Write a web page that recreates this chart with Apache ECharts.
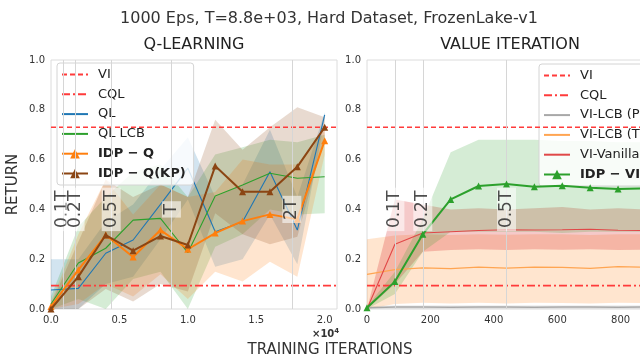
<!DOCTYPE html>
<html>
<head>
<meta charset="utf-8">
<script src="https://cdn.jsdelivr.net/npm/echarts@6.0.0/dist/echarts.min.js"></script>
<style>
  html, body { margin: 0; padding: 0; background: #fff; }
  #chart { width: 640px; height: 356px; }
</style>
</head>
<body>
<div id="chart"></div>
<script>
var FONT = 'DejaVu Sans';

// reference returns (horizontal lines)
var viReturn = 0.73;
var cqlReturn = 0.094;

// ---- Q-learning panel (x in training iterations) ----
var qIters = [0, 2000, 4000, 6000, 8000, 10000, 12000, 14000, 16000, 18000, 20000];
var qXMax = 20900;
var qMarkX = [880, 1760, 4400, 8800, 17600];
var qMarkText = ['0.1T', '0.2T', '0.5T', 'T', '2T'];

var ql = [0.076, 0.083, 0.224, 0.277, 0.42, 0.566, 0.31, 0.35, 0.551, 0.317, 0.78];
var qlLo = [0.0, 0.0, 0.1, 0.13, 0.28, 0.44, 0.17, 0.2, 0.38, 0.18, 0.76];
var qlHi = [0.2, 0.2, 0.35, 0.42, 0.56, 0.69, 0.45, 0.5, 0.72, 0.45, 0.79];

var qlLcb = [0.02, 0.185, 0.244, 0.357, 0.364, 0.226, 0.454, 0.498, 0.545, 0.525, 0.531];
var qlLcbLo = [0.0, 0.04, 0.0, 0.12, 0.15, 0.0, 0.25, 0.3, 0.4, 0.38, 0.385];
var qlLcbHi = [0.05, 0.33, 0.45, 0.55, 0.58, 0.45, 0.62, 0.65, 0.68, 0.67, 0.7];

var idpQ = [0.01, 0.157, 0.297, 0.209, 0.317, 0.24, 0.305, 0.353, 0.38, 0.36, 0.676];
var idpQLo = [0.0, 0.02, 0.1, 0.05, 0.14, 0.04, 0.15, 0.11, 0.19, 0.13, 0.62];
var idpQHi = [0.03, 0.3, 0.52, 0.38, 0.5, 0.45, 0.47, 0.6, 0.58, 0.58, 0.73];

var idpQKp = [0.0, 0.13, 0.297, 0.234, 0.293, 0.257, 0.574, 0.471, 0.471, 0.571, 0.73];
var idpQKpLo = [0.0, 0.0, 0.08, 0.03, 0.1, 0.07, 0.385, 0.3, 0.26, 0.29, 0.69];
var idpQKpHi = [0.02, 0.27, 0.52, 0.45, 0.5, 0.45, 0.76, 0.64, 0.73, 0.81, 0.77];

// ---- Value iteration panel ----
var vIters = [0, 88, 176, 264, 352, 440, 528, 616, 704, 792, 880];
var vXMax = 1000;
var vMarkX = [88, 176, 440];
var vMarkText = ['0.1T', '0.2T', '0.5T'];

var lcbP = [0.005, 0.008, 0.008, 0.007, 0.008, 0.008, 0.007, 0.008, 0.008, 0.007, 0.008];
var lcbPLo = [0.0, 0.0, 0.0, 0.0, 0.0, 0.0, 0.0, 0.0, 0.0, 0.0, 0.0];
var lcbPHi = [0.01, 0.015, 0.015, 0.015, 0.015, 0.015, 0.015, 0.015, 0.015, 0.015, 0.015];

var lcbT = [0.139, 0.158, 0.165, 0.162, 0.168, 0.164, 0.168, 0.167, 0.163, 0.17, 0.168];
var lcbTLo = [0.0, 0.02, 0.025, 0.022, 0.025, 0.022, 0.025, 0.024, 0.022, 0.025, 0.024];
var lcbTHi = [0.28, 0.295, 0.3, 0.297, 0.3, 0.298, 0.3, 0.3, 0.297, 0.3, 0.3];

var vanilla = [0.0, 0.26, 0.305, 0.31, 0.315, 0.318, 0.317, 0.318, 0.32, 0.316, 0.315];
var vanillaLo = [0.0, 0.1, 0.23, 0.237, 0.24, 0.237, 0.24, 0.238, 0.24, 0.237, 0.238];
var vanillaHi = [0.0, 0.44, 0.42, 0.4, 0.405, 0.4, 0.405, 0.41, 0.4, 0.405, 0.4];

var idpVi = [0.005, 0.11, 0.3, 0.44, 0.494, 0.502, 0.491, 0.495, 0.487, 0.482, 0.485];
var idpViLo = [0.0, 0.06, 0.23, 0.31, 0.31, 0.31, 0.31, 0.305, 0.31, 0.31, 0.31];
var idpViHi = [0.01, 0.15, 0.36, 0.63, 0.68, 0.68, 0.68, 0.675, 0.675, 0.67, 0.67];

var C = {
  vi: '#ff3b3b',
  blue: '#1f77b4',
  green: '#2ca02c',
  orange: '#ff7f0e',
  brown: '#8b4513',
  gray: '#a8a8a8',
  lightOrange: '#ffa552',
  red: '#e04848'
};

function zip(xs, ys) {
  var out = [];
  for (var i = 0; i < xs.length; i++) out.push([xs[i], ys[i]]);
  return out;
}

// shaded band between lo and hi, drawn through the axis scales
function band(name, xs, lo, hi, color, idx, alpha) {
  return {
    type: 'custom',
    name: name,
    xAxisIndex: idx,
    yAxisIndex: idx,
    clip: true,
    silent: true,
    z: 1,
    data: [[xs[0], lo[0]]],
    renderItem: function (params, api) {
      var pts = [];
      for (var i = 0; i < xs.length; i++) pts.push(api.coord([xs[i], hi[i]]));
      for (var j = xs.length - 1; j >= 0; j--) pts.push(api.coord([xs[j], lo[j]]));
      return {
        type: 'polygon',
        shape: { points: pts },
        style: { fill: color, opacity: alpha || 0.2 }
      };
    }
  };
}

function line(name, xs, ys, color, idx, opts) {
  opts = opts || {};
  return {
    type: 'line',
    name: name,
    xAxisIndex: idx,
    yAxisIndex: idx,
    data: zip(xs, ys),
    symbol: opts.symbol || 'none',
    symbolSize: opts.symbolSize || 7,
    showSymbol: !!opts.symbol,
    itemStyle: { color: color },
    lineStyle: { color: color, width: opts.width || 1.2, type: opts.type || 'solid' },
    animation: false,
    z: opts.z || 3
  };
}

function hline(name, value, xMax, type, idx) {
  return line(name, [0, xMax], [value, value], C.vi, idx, { type: type, width: 1.6, z: 4 });
}

// vertical T markers with rotated boxed labels
function markers(xs, texts, idx) {
  var data = [];
  for (var i = 0; i < xs.length; i++) data.push({ value: [xs[i], 0.4], name: texts[i] });
  return {
    type: 'scatter',
    name: 'markers' + idx,
    xAxisIndex: idx,
    yAxisIndex: idx,
    symbolSize: 0,
    silent: true,
    z: 10,
    data: data,
    label: {
      show: true,
      position: 'inside',
      rotate: 90,
      formatter: '{b}',
      fontFamily: FONT,
      fontSize: 17,
      color: '#222',
      backgroundColor: 'rgba(255,255,255,0.72)',
      padding: [1, 3]
    },
    markLine: {
      silent: true,
      symbol: 'none',
      label: { show: false },
      lineStyle: { color: '#d6d6d6', width: 1, type: 'solid' },
      data: xs.map(function (x) { return { xAxis: x }; })
    }
  };
}

var axisLabelStyle = { fontFamily: FONT, fontSize: 10, color: '#333' };

function xAxis(idx, max, step, fmt) {
  return {
    type: 'value',
    gridIndex: idx,
    min: 0,
    max: max,
    interval: step,
    axisLine: { show: false },
    axisTick: { show: false },
    splitLine: { show: false },
    axisLabel: Object.assign({
      margin: 6,
      showMaxLabel: false,
      formatter: function (v) { return v % step === 0 ? fmt(v) : ''; }
    }, axisLabelStyle)
  };
}

function yAxis(idx, withName) {
  var ax = {
    type: 'value',
    gridIndex: idx,
    min: 0,
    max: 1,
    interval: 0.2,
    axisLine: { show: false },
    axisTick: { show: false },
    splitLine: { show: false },
    axisLabel: Object.assign({ margin: 6, formatter: function (v) { return v.toFixed(1); } }, axisLabelStyle)
  };
  if (withName) {
    ax.name = 'RETURN';
    ax.nameLocation = 'middle';
    ax.nameGap = 30;
    ax.nameTextStyle = { fontFamily: FONT, fontSize: 15, color: '#333' };
  }
  return ax;
}

// legend box; items without markers hide the legend symbol
function legendBox(left, top, names, markerNames) {
  return {
    orient: 'vertical',
    left: left,
    top: top,
    itemWidth: 26,
    itemHeight: 12,
    itemGap: 6.8,
    padding: [5, 8, 5, 4],
    backgroundColor: 'rgba(255,255,255,0.82)',
    borderColor: '#d4d4d4',
    borderWidth: 1,
    borderRadius: 3,
    selectedMode: false,
    textStyle: { fontFamily: FONT, fontSize: 13, color: '#222', padding: [0, 0, 0, 5] },
    data: names.map(function (n) {
      return markerNames.indexOf(n) >= 0
        ? { name: n, textStyle: { fontWeight: 'bold' } }
        : { name: n, itemStyle: { opacity: 0 } };
    })
  };
}

var chart = echarts.init(document.getElementById('chart'));

var gridStyle = {
  show: true, borderColor: '#dcdcdc', borderWidth: 1, backgroundColor: 'transparent',
  containLabel: false, outerBoundsMode: 'none'
};

var option = {
  animation: false,
  backgroundColor: '#fff',
  title: [
    { text: '1000 Eps, T=8.8e+03, Hard Dataset, FrozenLake-v1', left: 329, top: 11, textAlign: 'center', padding: 0,
      textStyle: { fontFamily: FONT, fontSize: 16, fontWeight: 'normal', color: '#333' } },
    { text: 'Q-LEARNING', left: 194, top: 37, textAlign: 'center', padding: 0,
      textStyle: { fontFamily: FONT, fontSize: 16, fontWeight: 'normal', color: '#222' } },
    { text: 'VALUE ITERATION', left: 510, top: 37, textAlign: 'center', padding: 0,
      textStyle: { fontFamily: FONT, fontSize: 16, fontWeight: 'normal', color: '#222' } },
    { text: 'TRAINING ITERATIONS', left: 330, top: 343, textAlign: 'center', padding: 0,
      textStyle: { fontFamily: FONT, fontSize: 15, fontWeight: 'normal', color: '#333' } },
    { text: '{a|×10}{b|4}', left: 312, top: 328, padding: 0,
      textStyle: { rich: {
        a: { fontFamily: FONT, fontSize: 10, color: '#333' },
        b: { fontFamily: FONT, fontSize: 7, color: '#333', padding: [0, 0, 6, 0] }
      } } }
  ],
  grid: [
    Object.assign({ left: 51, right: 303, top: 60, bottom: 47 }, gridStyle),
    Object.assign({ left: 367, right: -44, top: 60, bottom: 47 }, gridStyle)
  ],
  xAxis: [
    xAxis(0, qXMax, 5000, function (v) { return (v / 10000).toFixed(1); }),
    xAxis(1, vXMax, 200, function (v) { return String(v); })
  ],
  yAxis: [yAxis(0, true), yAxis(1, false)],
  legend: [
    legendBox(57, 63, ['VI', 'CQL', 'QL', 'QL LCB', 'IDP − Q', 'IDP − Q(KP)'], ['IDP − Q', 'IDP − Q(KP)']),
    legendBox(539, 64, ['VI', 'CQL', 'VI-LCB (P)', 'VI-LCB (T)', 'VI-Vanilla', 'IDP − VI'], ['IDP − VI'])
  ],
  series: [
    // Q-learning panel
    band('QL band', qIters, qlLo, qlHi, C.blue, 0),
    band('QL LCB band', qIters, qlLcbLo, qlLcbHi, C.green, 0),
    band('IDP-Q band', qIters, idpQLo, idpQHi, C.orange, 0),
    band('IDP-Q(KP) band', qIters, idpQKpLo, idpQKpHi, C.brown, 0),
    hline('VI', viReturn, qXMax, [5, 3], 0),
    hline('CQL', cqlReturn, qXMax, [8, 3, 2, 3], 0),
    line('QL', qIters, ql, C.blue, 0, { width: 1.1 }),
    line('QL LCB', qIters, qlLcb, C.green, 0, { width: 1.1 }),
    line('IDP − Q', qIters, idpQ, C.orange, 0, { symbol: 'triangle', width: 2, z: 5 }),
    line('IDP − Q(KP)', qIters, idpQKp, C.brown, 0, { symbol: 'triangle', width: 2, z: 6 }),
    markers(qMarkX, qMarkText, 0),

    // value iteration panel
    band('VI-LCB (P) band', vIters, lcbPLo, lcbPHi, C.gray, 1),
    band('VI-LCB (T) band', vIters, lcbTLo, lcbTHi, C.orange, 1),
    band('VI-Vanilla band', vIters, vanillaLo, vanillaHi, '#d62728', 1, 0.25),
    band('IDP-VI band', vIters, idpViLo, idpViHi, C.green, 1),
    hline('VI', viReturn, vXMax, [5, 3], 1),
    hline('CQL', cqlReturn, vXMax, [8, 3, 2, 3], 1),
    line('VI-LCB (P)', vIters, lcbP, C.gray, 1, { width: 1.6 }),
    line('VI-LCB (T)', vIters, lcbT, C.lightOrange, 1, { width: 1.3 }),
    line('VI-Vanilla', vIters, vanilla, C.red, 1, { width: 1.1 }),
    line('IDP − VI', vIters, idpVi, C.green, 1, { symbol: 'triangle', width: 2, z: 5 }),
    markers(vMarkX, vMarkText, 1)
  ]
};

chart.setOption(option);
</script>
</body>
</html>
